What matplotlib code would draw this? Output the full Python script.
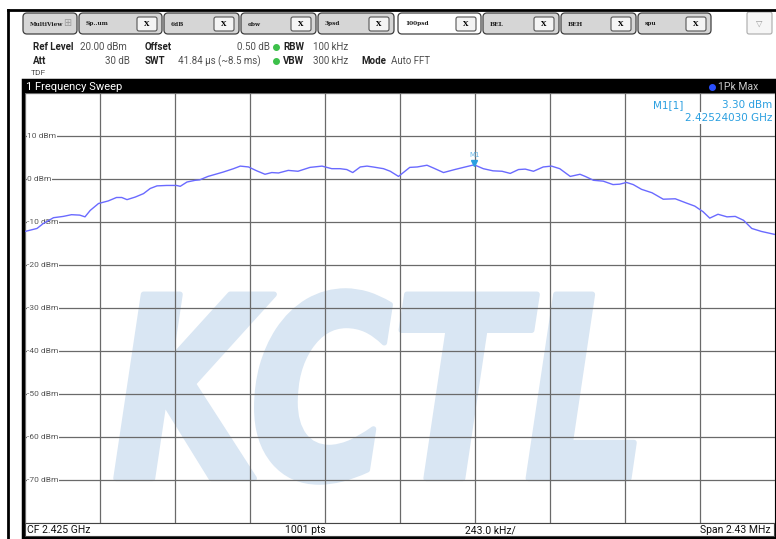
import matplotlib
matplotlib.use("Agg")
import matplotlib.pyplot as plt
from matplotlib.patches import Rectangle, FancyBboxPatch, PathPatch
from matplotlib.textpath import TextPath
from matplotlib.font_manager import FontProperties
from matplotlib.transforms import Affine2D

################
# Data
################
cf_mhz = 2425.0
span_mhz = 2.43
n_pts = 1001
ref_level = 20
db_per_div = 10

# sweep point index (0..1000) and trace level in dBm
sweep_pts = [0, 16, 24, 38, 51, 62, 73, 80, 87, 98,
             111, 122, 129, 136, 147, 158, 167, 176, 189, 202,
             207, 216, 227, 233, 244, 264, 278, 287, 298, 309,
             320, 329, 338, 351, 364, 380, 396, 409, 420, 429,
             437, 447, 456, 464, 478, 487, 498, 513, 523, 536,
             544, 558, 573, 587, 599, 611, 624, 636, 647, 658,
             667, 678, 691, 702, 713, 727, 740, 747, 758, 771,
             784, 793, 802, 811, 822, 836, 851, 867, 882, 893,
             904, 913, 924, 936, 947, 958, 969, 982, 1000]
trace_dbm = [-12.2, -11.5, -10.4, -9.0, -8.7, -8.3, -8.4, -8.8, -7.3, -5.7,
             -5.1, -4.3, -4.3, -4.8, -4.2, -3.4, -2.2, -1.6, -1.5, -1.5,
             -1.7, -0.7, -0.3, -0.2, 0.6, 1.6, 2.4, 3.0, 2.8, 1.9,
             1.1, 1.5, 1.4, 2.0, 1.8, 2.7, 3.0, 2.4, 2.4, 2.2,
             1.5, 2.8, 3.0, 2.8, 2.4, 1.8, 0.6, 2.7, 2.8, 3.2,
             2.6, 1.5, 2.2, 2.8, 3.3, 2.4, 1.9, 1.8, 1.3, 2.2,
             2.3, 1.8, 2.8, 3.0, 2.4, 0.6, 1.1, 0.6, -0.3, -0.5,
             -1.3, -1.2, -0.8, -1.3, -2.4, -3.2, -4.7, -4.6, -5.6, -6.3,
             -7.6, -9.1, -8.2, -8.8, -8.7, -9.6, -11.5, -12.2, -12.9]

marker_freq_ghz = 2.42524030
marker_level = 3.30

y_tick_vals = [10, 0, -10, -20, -30, -40, -50, -60, -70]

tab_names = ["MultiView", "Sp..um", "6dB", "obw", "3psd", "100psd", "BEL", "BEH", "spu"]
selected_tab = "100psd"

footer_texts = ["CF 2.425 GHz", "1001 pts", "243.0 kHz/", "Span 2.43 MHz"]

f_start = cf_mhz - span_mhz / 2
freq_mhz = [f_start + p * span_mhz / (n_pts - 1) for p in sweep_pts]

W, H = 776, 539
fig = plt.figure(figsize=(W / 100, H / 100), dpi=100)
fig.patch.set_facecolor("white")

# background "screen" axes in pixel coords (y down)
bg = fig.add_axes([0, 0, 1, 1], zorder=0)
bg.set_xlim(0, W)
bg.set_ylim(H, 0)
bg.axis("off")

# outer frame
bg.plot([8, W], [10, 10], color="black", lw=2)
bg.plot([8, 8], [10, H], color="black", lw=2)

# tabs
tab_x = [(22, 78), (78, 163), (163, 240), (240, 317), (317, 395),
         (397, 482), (482, 560), (560, 637), (637, 712)]
for name, (x0, x1) in zip(tab_names, tab_x):
    sel = name == selected_tab
    bg.add_patch(FancyBboxPatch((x0 + 1, 13), x1 - x0 - 2, 21,
                                boxstyle="round,pad=0,rounding_size=4",
                                fc="white" if sel else "#d6d6d6",
                                ec="#404040", lw=0.9))
    bg.text(x0 + 8, 24, name, fontsize=4.2, fontweight="bold",
            family="DejaVu Serif", va="center", color="#202020")
    if name == "MultiView":
        bg.text(x1 - 11, 23.5, "\u229e", fontsize=7, color="#9a9a9a",
                va="center", ha="center")
    else:
        bg.add_patch(FancyBboxPatch((x1 - 26, 17), 20, 14,
                                    boxstyle="round,pad=0,rounding_size=2",
                                    fc="#f4f4f4", ec="#555555", lw=0.8))
        bg.text(x1 - 16, 24, "X", fontsize=5, fontweight="bold",
                family="DejaVu Serif", ha="center", va="center")
bg.add_patch(FancyBboxPatch((747, 12), 25, 22,
                            boxstyle="round,pad=0,rounding_size=2",
                            fc="#f6f6f6", ec="#aaaaaa", lw=0.8))
bg.text(759.5, 23, "\u25bd", fontsize=6, color="#999999", ha="center", va="center")

# setting lines
hc = "#222222"
vc = "#505050"
fs = 7
hf = "Roboto"
bg.text(33, 47, "Ref Level", fontsize=fs, fontweight="bold", color=hc, va="center", family=hf)
bg.text(80, 47, "20.00 dBm", fontsize=fs, color=vc, va="center", family=hf)
bg.text(145, 47, "Offset", fontsize=fs, fontweight="bold", color=hc, va="center", family=hf)
bg.text(270, 47, "0.50 dB", fontsize=fs, color=vc, va="center", ha="right", family=hf)
bg.text(283, 47, "RBW", fontsize=fs, fontweight="bold", color=hc, va="center", family=hf)
bg.text(313, 47, "100 kHz", fontsize=fs, color=vc, va="center", family=hf)
bg.text(33, 61, "Att", fontsize=fs, fontweight="bold", color=hc, va="center", family=hf)
bg.text(130, 61, "30 dB", fontsize=fs, color=vc, va="center", ha="right", family=hf)
bg.text(145, 61, "SWT", fontsize=fs, fontweight="bold", color=hc, va="center", family=hf)
bg.text(178, 61, "41.84 \u00b5s (~8.5 ms)", fontsize=fs, color=vc, va="center", family=hf)
bg.text(283, 61, "VBW", fontsize=fs, fontweight="bold", color=hc, va="center", family=hf)
bg.text(313, 61, "300 kHz", fontsize=fs, color=vc, va="center", family=hf)
bg.text(361, 61, "Mode", fontsize=fs, fontweight="bold", color=hc, va="center", family=hf)
bg.text(391, 61, "Auto FFT", fontsize=fs, color=vc, va="center", family=hf)
bg.text(31, 73, "TDF", fontsize=6, color=vc, va="center", family=hf)
bg.plot([276, 276], [47, 61], ls="none", marker="o", ms=4, color="#3cc04a")

# window frame + title bar
bg.add_patch(Rectangle((23, 80), W - 23, 457, fc="none", ec="black", lw=2.5))
bg.add_patch(Rectangle((23, 80), W - 23, 13, fc="black", ec="black", lw=0))
bg.text(26, 86.5, "1 Frequency Sweep", fontsize=8, color="white", va="center", family=hf)
bg.plot([712], [86.5], marker="o", ms=4, color="#2a50ff")
bg.text(718, 86.5, "1Pk Max", fontsize=7.5, color="#c8c8c8", va="center", family=hf)

# footer bar
bg.add_patch(Rectangle((25, 523), W - 27, 13, fc="white", ec="#444444", lw=0.8))
bg.text(27, 530, footer_texts[0], fontsize=7.5, va="center", color="#111111", family=hf)
bg.text(305, 530, footer_texts[1], fontsize=7.5, va="center", ha="center", color="#111111", family=hf)
bg.text(490, 530, footer_texts[2], fontsize=7.5, va="center", ha="center", color="#111111", family=hf)
bg.text(771, 530, footer_texts[3], fontsize=7.5, va="center", ha="right", color="#111111", family=hf)

# plot area
x0p, x1p, y_top, y_bot = 25, 775, 93, 523
ax = fig.add_axes([x0p / W, (H - y_bot) / H, (x1p - x0p) / W, (y_bot - y_top) / H], zorder=1)
ax.set_facecolor("white")
ax.set_xlim(f_start, f_start + span_mhz)
ax.set_ylim(ref_level - 10 * db_per_div, ref_level)
ax.set_xticks([f_start + i * span_mhz / 10 for i in range(11)])
ax.set_yticks(range(ref_level - 10 * db_per_div, ref_level + 1, db_per_div))
ax.tick_params(length=0, labelbottom=False, labelleft=False)
ax.grid(True, color="#6a6a6a", lw=0.9, zorder=1)
ax.set_axisbelow(False)
for s in ax.spines.values():
    s.set_visible(False)

# watermark (heavy italic lettering, stroked to thicken)
tp = TextPath((0, 0), "KCTL", size=1,
              prop=FontProperties(family="DejaVu Sans", weight="bold", style="oblique"))
ext = tp.get_extents()
wm_x0, wm_x1, wm_top, wm_bot = 116, 634, 291, 482
sx = (wm_x1 - wm_x0) / ext.width
sy = (wm_bot - wm_top) / ext.height
wm_tr = Affine2D().translate(-ext.x0, -ext.y0).scale(sx, sy).translate(wm_x0, H - wm_bot)
ax.add_patch(PathPatch(wm_tr.transform_path(tp), fc="#d9e6f3", ec="#d9e6f3", lw=4,
                       joinstyle="round", transform=None, zorder=0.5))

# y labels
for v in y_tick_vals:
    ax.text(f_start + span_mhz * 0.003, v, f"{v} dBm", fontsize=6, color="#555555",
            va="center", ha="left", zorder=3, family=hf,
            bbox=dict(fc="white", ec="none", pad=0.3))

# trace
ax.plot(freq_mhz, trace_dbm, color="#6a6aff", lw=1.0, zorder=4)

# marker
mf = marker_freq_ghz * 1000
ax.plot([mf], [marker_level + 0.5], marker="v", ms=4, color="#2a9fe0", zorder=5)
ax.text(mf, marker_level + 1.6, "M1", fontsize=5, color="#6ab8e8",
        ha="center", va="bottom", zorder=5)
mc = "#2a9fe0"
ax.text(0.838, 0.984, "M1[1]", transform=ax.transAxes, fontsize=7.5, color=mc,
        ha="left", va="top", zorder=5, bbox=dict(fc="white", ec="none", pad=0.5))
ax.text(0.997, 0.984, f"{marker_level:.2f} dBm", transform=ax.transAxes, fontsize=7.5,
        color=mc, ha="right", va="top", zorder=5, bbox=dict(fc="white", ec="none", pad=0.5))
ax.text(0.997, 0.953, f"{marker_freq_ghz:.8f} GHz", transform=ax.transAxes, fontsize=7.5,
        color=mc, ha="right", va="top", zorder=5, bbox=dict(fc="white", ec="none", pad=0.5))

plt.savefig("out.png", dpi=100)
